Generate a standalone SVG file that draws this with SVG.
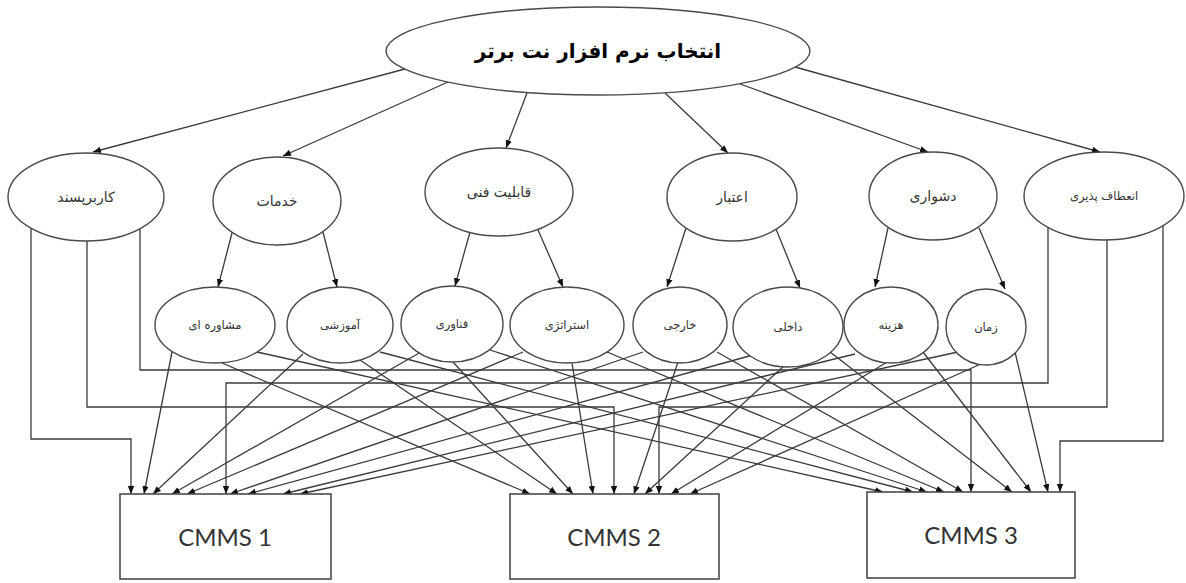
<svg xmlns="http://www.w3.org/2000/svg" width="1186" height="583" viewBox="0 0 1186 583">
<style>
.bg{fill:#ffffff}
.el{fill:#ffffff;stroke:#4a4a4a;stroke-width:1.4}
.bx{fill:#ffffff;stroke:#4a4a4a;stroke-width:1.6}
.c{fill:none;stroke:#3a3a3a;stroke-width:1.3;marker-end:url(#ah)}
.t1{font-family:"DejaVu Sans",sans-serif;font-size:20px;font-weight:bold;fill:#000;text-anchor:middle}
.t2{font-family:"DejaVu Sans",sans-serif;font-size:14px;fill:#333;text-anchor:middle}
.t3{font-family:"DejaVu Sans",sans-serif;font-size:11.5px;fill:#333;text-anchor:middle}
.tb{font-family:Lato,"Liberation Sans",sans-serif;font-size:24px;fill:#333;text-anchor:middle}
</style>
<defs>
<marker id="ah" viewBox="0 0 10 10" refX="10" refY="5" markerWidth="8" markerHeight="8" markerUnits="userSpaceOnUse" orient="auto"><path d="M0,1 L10,5 L0,9 z" fill="#111"/></marker>
</defs>
<rect class="bg" x="0" y="0" width="1186" height="583"/>

<g id="connectors">
<!-- level 1 to level 2 -->
<path class="c" d="M405,69 L93,152"/>
<path class="c" d="M448,82 L283,156"/>
<path class="c" d="M527,93 L506,148"/>
<path class="c" d="M665,93 L728,153"/>
<path class="c" d="M740,84 L928,152"/>
<path class="c" d="M795,67 L1100,152"/>
<!-- level 2 to level 3 -->
<path class="c" d="M232,233 L218,287"/>
<path class="c" d="M323,232 L337,287"/>
<path class="c" d="M470,232 L455,286"/>
<path class="c" d="M538,230 L563,287"/>
<path class="c" d="M686,228 L667,287"/>
<path class="c" d="M776,229 L800,288"/>
<path class="c" d="M888,228 L875,287"/>
<path class="c" d="M979,228 L1005,289"/>
<!-- orthogonal from user-friendly -->
<path class="c" d="M31,228 V439 H131 V494"/>
<path class="c" d="M87,241 V407 H614 V494"/>
<path class="c" d="M140,229 V370 H971 V492"/>
<!-- orthogonal from flexibility -->
<path class="c" d="M1048,227 V383 H226 V494"/>
<path class="c" d="M1107,240 V407 H659 V494"/>
<path class="c" d="M1163,226 V441 H1060 V492"/>
<!-- level 3 to CMMS 1 -->
<path class="c" d="M172,352 L144,494"/>
<path class="c" d="M303,354 L153,494"/>
<path class="c" d="M421,352 L172,494"/>
<path class="c" d="M523,352 L187,494"/>
<path class="c" d="M643,352 L230,494"/>
<path class="c" d="M753,355 L248,494"/>
<path class="c" d="M855,354 L283,494"/>
<path class="c" d="M958,352 L300,494"/>
<!-- level 3 to CMMS 2 -->
<path class="c" d="M222,363 L530,494"/>
<path class="c" d="M360,360 L557,494"/>
<path class="c" d="M453,362 L573,494"/>
<path class="c" d="M572,363 L593,494"/>
<path class="c" d="M678,362 L634,494"/>
<path class="c" d="M785,365 L645,494"/>
<path class="c" d="M887,362 L671,494"/>
<path class="c" d="M983,363 L690,494"/>
<!-- level 3 to CMMS 3 -->
<path class="c" d="M257,352 L883,492"/>
<path class="c" d="M380,352 L913,492"/>
<path class="c" d="M490,350 L927,492"/>
<path class="c" d="M607,352 L944,492"/>
<path class="c" d="M717,352 L963,492"/>
<path class="c" d="M830,352 L1012,492"/>
<path class="c" d="M923,352 L1031,492"/>
<path class="c" d="M1015,352 L1048,492"/>
</g>

<g id="goal"><ellipse class="el" cx="598" cy="51" rx="212" ry="44"/><text class="t1" x="598" y="58">انتخاب نرم افزار نت برتر</text></g>

<g id="n-karbarpasand"><ellipse class="el" cx="86" cy="197" rx="78" ry="44"/><text class="t2" x="86" y="202">کاربرپسند</text></g>
<g id="n-khadamat"><ellipse class="el" cx="277" cy="201" rx="64" ry="44"/><text class="t2" x="277" y="206">خدمات</text></g>
<g id="n-ghabeliat"><ellipse class="el" cx="499" cy="192" rx="74" ry="44"/><text class="t2" x="499" y="197">قابلیت فنی</text></g>
<g id="n-etebar"><ellipse class="el" cx="732" cy="197" rx="65" ry="44"/><text class="t2" x="732" y="202">اعتبار</text></g>
<g id="n-doshvari"><ellipse class="el" cx="933" cy="196" rx="64" ry="44"/><text class="t2" x="933" y="201">دشواری</text></g>
<g id="n-enetaf"><ellipse class="el" cx="1104" cy="196" rx="80" ry="44"/><text class="t3" x="1104" y="200">انعطاف پذیری</text></g>

<g id="n-moshavere"><ellipse class="el" cx="215" cy="325" rx="60" ry="38"/><text class="t3" x="215" y="329">مشاوره ای</text></g>
<g id="n-amoozeshi"><ellipse class="el" cx="340" cy="325" rx="53" ry="38"/><text class="t3" x="340" y="329">آموزشی</text></g>
<g id="n-fanavari"><ellipse class="el" cx="452" cy="324" rx="51" ry="38"/><text class="t3" x="452" y="328">فناوری</text></g>
<g id="n-esteratezhi"><ellipse class="el" cx="567" cy="325" rx="57" ry="38"/><text class="t3" x="567" y="329">استراتژی</text></g>
<g id="n-khareji"><ellipse class="el" cx="680" cy="325" rx="47" ry="38"/><text class="t3" x="680" y="329">خارجی</text></g>
<g id="n-dakheli"><ellipse class="el" cx="788" cy="327" rx="55" ry="40"/><text class="t3" x="788" y="331">داخلی</text></g>
<g id="n-hazine"><ellipse class="el" cx="891" cy="325" rx="47" ry="38"/><text class="t3" x="891" y="329">هزینه</text></g>
<g id="n-zaman"><ellipse class="el" cx="986" cy="327" rx="40" ry="38"/><text class="t3" x="986" y="331">زمان</text></g>

<g id="cmms1"><rect class="bx" x="120" y="494" width="211" height="85"/><text class="tb" x="225" y="546">CMMS 1</text></g>
<g id="cmms2"><rect class="bx" x="510" y="494" width="209" height="85"/><text class="tb" x="614" y="546">CMMS 2</text></g>
<g id="cmms3"><rect class="bx" x="867" y="492" width="208" height="86"/><text class="tb" x="971" y="544">CMMS 3</text></g>
</svg>
